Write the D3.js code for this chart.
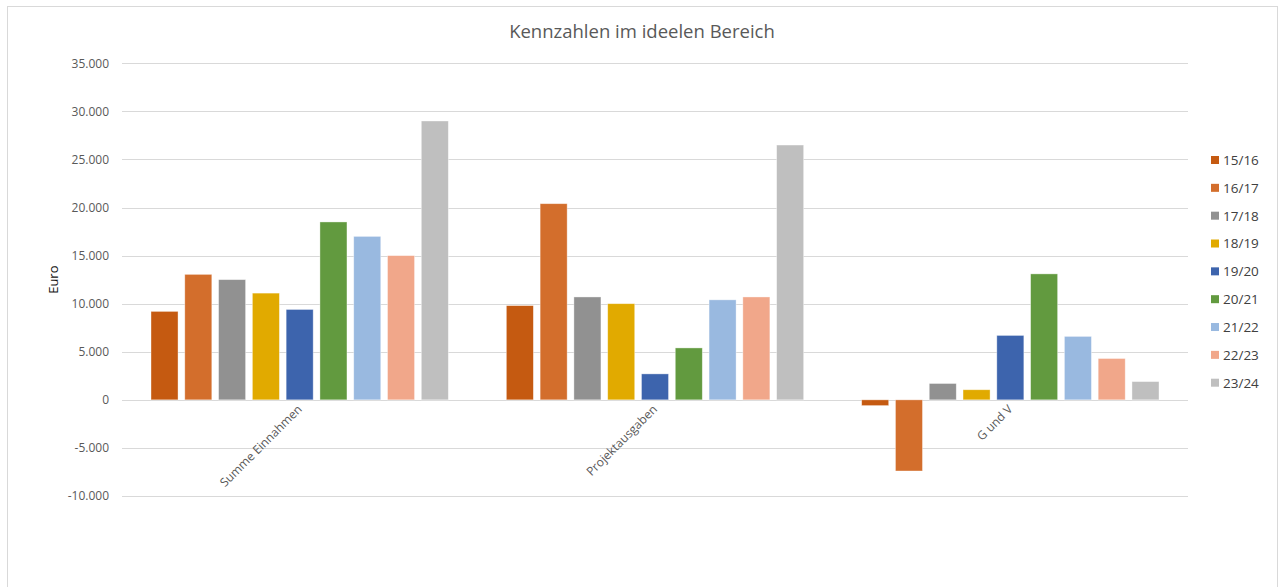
<!DOCTYPE html>
<html>
<head>
<meta charset="utf-8">
<script src="https://cdn.jsdelivr.net/npm/d3@7"></script>
<style>
  body { margin: 0; background: #fff; }
  svg { display: block; font-family: "Open Sans", "Liberation Sans", sans-serif; }
</style>
</head>
<body>
<div id="chart"></div>
<script>
// data
const categories = ["Summe Einnahmen", "Projektausgaben", "G und V"];
const seasons = ["15/16", "16/17", "17/18", "18/19", "19/20", "20/21", "21/22", "22/23", "23/24"];
const seasonColors = ["#C55A11", "#D36E2C", "#919191", "#E1AA00", "#3D64AD", "#629A3F", "#99B9E0", "#F1A78A", "#BFBFBF"];
// values per season, in category order
const values = [
  [9200, 9800, -600],
  [13050, 20400, -7400],
  [12500, 10700, 1700],
  [11100, 10000, 1050],
  [9400, 2700, 6700],
  [18500, 5400, 13100],
  [17000, 10400, 6600],
  [15000, 10700, 4300],
  [29000, 26500, 1900]
];
const yTicks = [-10000, -5000, 0, 5000, 10000, 15000, 20000, 25000, 30000, 35000];

const width = 1280, height = 587;
const plot = { left: 122, right: 1188, top: 63.3, bottom: 496 };

// German number format, plain hyphen as minus like Excel
const de = d3.formatLocale({ decimal: ",", thousands: ".", grouping: [3], currency: ["", " €"], minus: "-" });
const fmt = de.format(",.0f");

const svg = d3.select("#chart").append("svg")
  .attr("width", width)
  .attr("height", height);

// outer chart frame
svg.append("rect")
  .attr("x", 7.5).attr("y", 6.5)
  .attr("width", 1270).attr("height", 600)
  .attr("fill", "#fff")
  .attr("stroke", "#d9d9d9");

const y = d3.scaleLinear()
  .domain([-10000, 35000])
  .range([plot.bottom, plot.top]);

const x0 = d3.scaleBand()
  .domain(categories)
  .range([plot.left, plot.right]);

const outerGap = 29;
const x1 = d3.scaleBand()
  .domain(seasons)
  .range([outerGap, x0.bandwidth() - outerGap])
  .paddingInner(0.2);

// gridlines + y labels
const grid = svg.append("g");
grid.selectAll("line")
  .data(yTicks)
  .join("line")
  .attr("x1", plot.left).attr("x2", plot.right)
  .attr("y1", d => Math.round(y(d)) + 0.5)
  .attr("y2", d => Math.round(y(d)) + 0.5)
  .attr("stroke", "#d9d9d9")
  .attr("stroke-width", 1);

grid.selectAll("text")
  .data(yTicks)
  .join("text")
  .attr("x", 109)
  .attr("y", d => y(d))
  .attr("dy", "0.35em")
  .attr("text-anchor", "end")
  .attr("font-size", 12)
  .attr("fill", "#595959")
  .text(d => fmt(d));

// bars
const bars = svg.append("g");
seasons.forEach((s, i) => {
  bars.append("g")
    .selectAll("rect")
    .data(values[i].map((v, j) => ({ cat: categories[j], v })))
    .join("rect")
    .attr("x", d => x0(d.cat) + x1(s))
    .attr("width", x1.bandwidth())
    .attr("y", d => y(Math.max(0, d.v)))
    .attr("height", d => Math.abs(y(d.v) - y(0)))
    .attr("fill", seasonColors[i])
    .attr("stroke", "#fff")
    .attr("stroke-opacity", 0.5)
    .attr("stroke-width", 0.75);
});

// category labels, rotated
svg.append("g")
  .selectAll("text")
  .data(categories)
  .join("text")
  .attr("transform", d => `translate(${x0(d) + x0.bandwidth() / 2 + 3},${410}) rotate(-45)`)
  .attr("text-anchor", "end")
  .attr("font-size", 12)
  .attr("fill", "#595959")
  .text(d => d);

// axis title
svg.append("text")
  .attr("transform", `translate(58,${(plot.top + plot.bottom) / 2}) rotate(-90)`)
  .attr("text-anchor", "middle")
  .attr("font-size", 13)
  .attr("fill", "#111")
  .text("Euro");

// title
svg.append("text")
  .attr("x", 642)
  .attr("y", 38)
  .attr("text-anchor", "middle")
  .attr("font-size", 18.5)
  .attr("fill", "#595959")
  .text("Kennzahlen im ideelen Bereich");

// legend
const legend = svg.append("g");
const legendRow = d3.scalePoint().domain(seasons).range([160, 382.7]);
const items = legend.selectAll("g")
  .data(seasons)
  .join("g")
  .attr("transform", d => `translate(1211,${legendRow(d)})`);
items.append("rect")
  .attr("x", 0).attr("y", -4)
  .attr("width", 8).attr("height", 8)
  .attr("fill", (d, i) => seasonColors[i]);
items.append("text")
  .attr("x", 12)
  .attr("dy", "0.36em")
  .attr("font-size", 13.5)
  .attr("fill", "#404040")
  .text(d => d);
</script>
</body>
</html>
